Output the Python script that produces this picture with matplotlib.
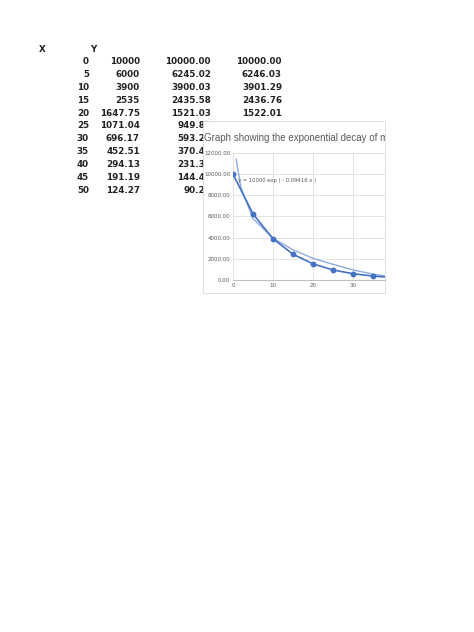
import matplotlib.pyplot as plt
from matplotlib.patches import Rectangle

x_vals = [0, 5, 10, 15, 20, 25, 30, 35, 40, 45, 50]
y_vals = ['10000', '6000', '3900', '2535', '1647.75', '1071.04', '696.17',
          '452.51', '294.13', '191.19', '124.27']
model_a = [10000.00, 6245.02, 3900.03, 2435.58, 1521.03, 949.85, 593.21,
           370.45, 231.37, 144.49, 90.23]
model_b = ['10000.00', '6246.03', '3901.29', '2436.76', '1522.01']

# approximate trend line
trend_x = [0.8, 2, 5, 10, 15, 20, 25, 30, 35, 38]
trend_y = [11400, 8700, 5800, 3950, 2850, 2050, 1480, 950, 560, 380]

W, H = 474, 632
fig = plt.figure(figsize=(W / 100, H / 100), dpi=100)

def fx(px):
    return px / W

def fy(py):
    return 1 - py / H

font = dict(fontsize=6.3, fontweight='bold', color='#222222', zorder=1)
fig.text(fx(42), fy(49), 'X', ha='center', va='center', **font)
fig.text(fx(93), fy(49), 'Y', ha='center', va='center', **font)
for i in range(len(x_vals)):
    yy = fy(62 + i * 12.8)
    fig.text(fx(89), yy, str(x_vals[i]), ha='right', va='center', **font)
    fig.text(fx(140), yy, y_vals[i], ha='right', va='center', **font)
    fig.text(fx(211), yy, '%.2f' % model_a[i], ha='right', va='center', **font)
    if i < len(model_b):
        fig.text(fx(282), yy, model_b[i], ha='right', va='center', **font)

# chart area covering part of the sheet
box = Rectangle((fx(203), fy(293)), fx(385 - 203), (293 - 121) / H,
                transform=fig.transFigure, facecolor='white',
                edgecolor='#d9d9d9', linewidth=0.6, zorder=5)
fig.patches.append(box)
title = fig.text(fx(204), fy(138), 'Graph showing the exponential decay of m',
                 fontsize=7.0, family='Liberation Sans', color='#595959',
                 ha='left', va='center', zorder=7)
title.set_clip_path(box)

ax = fig.add_axes([fx(233), fy(280), fx(385 - 233), (280 - 153) / H])
ax.set_zorder(6)
ax.patch.set_alpha(0)
ax.plot(trend_x, trend_y, color='#8faadc', linewidth=1.0)
ax.plot(x_vals, model_a, color='#4472c4', linewidth=1.2, marker='o', markersize=3.2)
ax.text(1.2, 9300, 'y = 10000 exp ( - 0.09416 x )', fontsize=3.8, color='#595959')
ax.set_xlim(0, 38)
ax.set_ylim(0, 12000)
ax.set_xticks([0, 10, 20, 30])
ax.set_yticks(range(0, 12001, 2000))
ax.set_yticklabels(['%.2f' % v for v in range(0, 12001, 2000)])
ax.tick_params(labelsize=4.0, colors='#595959', length=0, pad=2)
ax.grid(color='#d9d9d9', linewidth=0.5)
for s in ax.spines.values():
    s.set_visible(False)
ax.spines['bottom'].set_visible(True)
ax.spines['bottom'].set_color('#bfbfbf')

fig.savefig('out.png', dpi=100)
